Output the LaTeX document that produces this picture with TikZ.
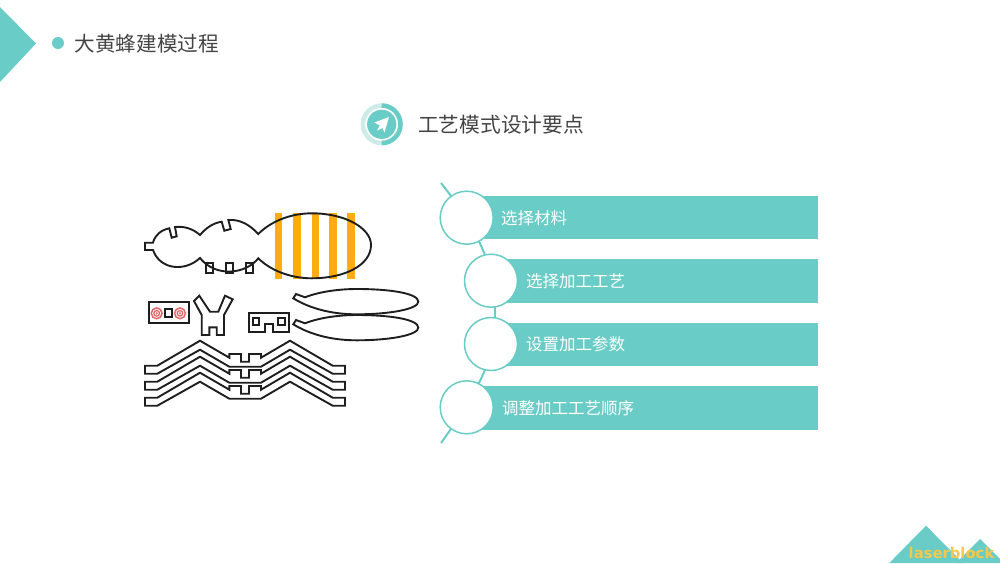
\documentclass[tikz,border=0pt]{standalone}
\usepackage{xcolor}
\usepackage{fontspec}
\setmainfont{Noto Sans CJK SC}
\newfontfamily\logofont{DejaVu Sans}
\usetikzlibrary{calc}
\definecolor{teal0}{RGB}{105,204,198}
\definecolor{teal1}{RGB}{205,236,233}
\definecolor{stripe}{RGB}{255,171,18}
\definecolor{target}{RGB}{226,104,104}
\definecolor{title}{RGB}{68,68,68}
\definecolor{logo}{RGB}{247,201,72}
\definecolor{part}{RGB}{30,30,30}
\tikzset{
    cutline/.style = {draw=part, line width=1.9pt, line join=miter},
    stepbar/.style = {fill=teal0, minimum height=43.5pt, inner sep=0pt, anchor=east},
    stepdot/.style = {circle, draw=teal0, fill=white, line width=1.5pt, minimum size=53pt, inner sep=0pt},
    steptext/.style = {anchor=west, inner sep=0pt, text=white, font=\fontsize{16.5}{20}\selectfont},
    pics/leg/.style = {
        code = {%
        \draw[cutline] (0,0) -- (12.3,0) -- (55,-25) -- (84.3,-8) -- (84.3,-11.7)
           -- (96,-11.7) -- (96,-4) -- (104,-4) -- (104,-11.7) -- (116,-11.7) -- (116,-8)
           -- (145,-25) -- (187.7,0) -- (200,0) -- (200,8) -- (187.7,8) -- (145,-16)
           -- (116,1) -- (84.3,1) -- (55,-16) -- (12.3,8) -- (0,8) -- cycle;
        }
    },
    pics/wing/.style = {
        code = {%
        \draw[cutline] (0,0) -- (2.7,-4.3) -- (11.7,-1)
           .. controls (27,-7) and (47,-9.3) .. (63.4,-9.3)
           .. controls (97,-9.3) and (125,-5) .. (125,3.4)
           .. controls (125,10.7) and (97,16) .. (63.4,16)
           .. controls (42,16) and (19,11.7) .. (0,0) -- cycle;
        }
    },
    pics/target/.style = {
        code = {%
        \draw[target, line width=1.5pt] (0,0) circle (5.4);
        \draw[target, line width=1.3pt] (0,0) circle (2.8);
        \fill[target] (0,0) circle (1.2);
        }
    }
}

\begin{document}
\begin{tikzpicture}[x=1pt,y=-1pt]
\useasboundingbox (0,0) rectangle (1000,563);

% header
\fill[teal0] (0,7) -- (36,43.5) -- (0,82) -- cycle;
\fill[teal0] (58,43) circle (6);
\node[anchor=west, inner sep=0pt, text=title, font=\fontsize{20.6}{24}\selectfont] (title) at (74.5,43.8) {大黄蜂建模过程};

% icon and heading
\draw[teal1, line width=4.5pt] (381.7,124.3) circle (18.8);
\draw[teal0, line width=4.5pt] (381.7,105.5) arc[start angle=-90, end angle=90, radius=18.8];
\fill[teal0] (381.7,124.3) circle (14.6);
\fill[white] (389,117) -- (374.5,122.5) -- (379.8,125.6) -- (377,130.5) -- (382.4,128) -- (384.5,132.5) -- cycle;
\node[anchor=west, inner sep=0pt, text=title, font=\fontsize{20.7}{24}\selectfont] (heading) at (418,124.5) {工艺模式设计要点};

% bee body
\fill[stripe] (275,213.3) rectangle (282.3,279);
\fill[stripe] (293.3,213.3) rectangle (300.7,279);
\fill[stripe] (311.7,213.3) rectangle (319,279);
\fill[stripe] (329,213.3) rectangle (337,279);
\fill[stripe] (347.3,213.3) rectangle (355.3,279);
\draw[cutline] (145,250) -- (145,242.7) -- (153,242.7)
   .. controls (155,235) and (161,230) .. (169.3,228.3)
   -- (171.7,237.7) -- (176.7,236.3) -- (175,227)
   .. controls (185,226) and (193,229) .. (200,235)
   .. controls (206,228) and (213,223) .. (221.7,221.7)
   -- (224.3,230.7) -- (230.7,229) -- (228.3,220)
   .. controls (240,219) and (250,225) .. (258.3,234)
   .. controls (270,222) and (290,213.3) .. (311.7,213.3)
   .. controls (345,213.3) and (371,228) .. (371,245)
   .. controls (371,265) and (345,278.3) .. (311.7,278.3)
   .. controls (290,278.3) and (270,270) .. (258.3,258.3)
   .. controls (246,274) and (216,278) .. (200,258)
   .. controls (185,272) and (160,270) .. (153,250) -- cycle;
\draw[cutline] (206,262.7) rectangle (213.3,273);
\draw[cutline] (225.7,262.7) rectangle (233,273);
\draw[cutline] (245.7,262.7) rectangle (253,273);

% small parts
\draw[cutline] (149,302.3) rectangle (189,323.3);
\pic at (156.7,313.3) {target};
\pic at (180,313.3) {target};
\draw[cutline] (165,309.3) rectangle (172.3,316.7);
\draw[cutline] (194,301) -- (199.3,295.7) -- (210,311.7) -- (218.3,311.7) -- (225,295.7)
   -- (232.7,299.3) -- (224,315) -- (224,335) -- (216.7,335) -- (216.7,327.3)
   -- (209.3,327.3) -- (209.3,335) -- (201.7,335) -- (201.7,315) -- cycle;
\draw[cutline] (249.3,312.7) -- (289,312.7) -- (289,331.7) -- (273.3,331.7) -- (273.3,324.3)
   -- (265,324.3) -- (265,331.7) -- (249.3,331.7) -- cycle;
\draw[cutline] (252.7,318.3) rectangle (259.3,325);
\draw[cutline] (278.3,318.3) rectangle (285,325);
\pic at (293.3,298.3) {wing};
\pic at (293.3,324.3) {wing};

% legs
\pic at (145,365.7) {leg};
\pic at (145,381.7) {leg};
\pic at (145,397.7) {leg};

% list
\coordinate (linetop) at (441,183);
\coordinate (linemid) at (495,312);
\coordinate (linebot) at (441,443);
\draw[teal0, line width=2pt] (linetop) .. controls (490,245) and (495,280) .. (linemid)
   .. controls (495,350) and (490,375) .. (linebot);

\node[stepbar, minimum width=343pt] (bar1) at (818,217.7) {};
\node[stepbar, minimum width=319pt] (bar2) at (818,281.2) {};
\node[stepbar, minimum width=319pt] (bar3) at (818,344.7) {};
\node[stepbar, minimum width=343pt] (bar4) at (818,408.2) {};

\node[stepdot] (dot1) at (466.7,217.7) {};
\node[stepdot] (dot2) at (491,280.7) {};
\node[stepdot] (dot3) at (491,344) {};
\node[stepdot] (dot4) at (466.7,407.3) {};

\node[steptext] (txt1) at (501,217.8) {选择材料};
\node[steptext] (txt2) at (526,281) {选择加工工艺};
\node[steptext] (txt3) at (526,344.2) {设置加工参数};
\node[steptext] (txt4) at (502,407.8) {调整加工工艺顺序};

% logo
\fill[teal0] (889.3,563) -- (926,525.7) -- (963,563) -- cycle;
\fill[teal0] (956,563) -- (980,539) -- (1004,563) -- cycle;
\node[anchor=center, inner sep=0pt, text=logo, font=\logofont\bfseries\fontsize{14.8}{16}\selectfont] (logo) at (951.5,552.5) {laserblock};
\end{tikzpicture}
\end{document}
